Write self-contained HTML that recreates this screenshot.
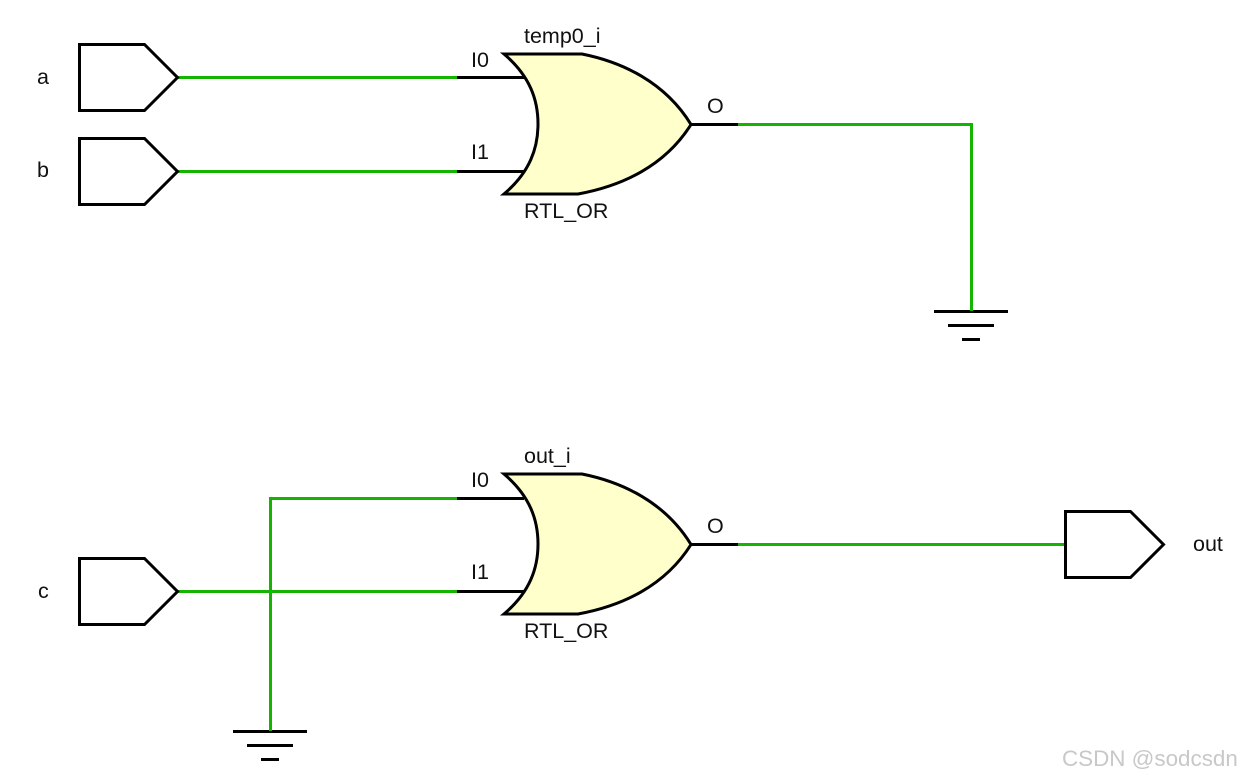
<!DOCTYPE html>
<html>
<head>
<meta charset="utf-8">
<style>
html,body{margin:0;padding:0;background:#fff;width:1241px;height:778px;overflow:hidden}
svg{display:block}
text{font-family:"Liberation Sans",sans-serif;font-size:21.500px;fill:#111}
</style>
</head>
<body>
<svg width="1241" height="778" viewBox="0 0 1241 778" xmlns="http://www.w3.org/2000/svg">
<defs>
<path id="gate" d="M504 54 L582 54 C622 62 665 82 691 124.500 C665 166 622 186 578 194 L504 194 C530 172 538 148 538 124 C538 100 530 76 504 54 Z" fill="#ffffcc" stroke="#000" stroke-width="3" stroke-linejoin="miter"/>
<path id="port" d="M0 0 H65 L98 33 L65 66 H0 Z" fill="#fff" stroke="#000" stroke-width="3" stroke-linejoin="miter"/>
<g id="gnd" fill="#000">
<rect x="0" y="0" width="74" height="3"/>
<rect x="14" y="14" width="46" height="3"/>
<rect x="28" y="28" width="18" height="3"/>
</g>
</defs>

<g stroke="#14b400" stroke-width="3" fill="none">
<path d="M177 77.500 H457"/>
<path d="M177 171.500 H457"/>
<path d="M738 124.500 H971.500 V311"/>
<path d="M457 498.500 H270.500 V731"/>
<path d="M177 591.500 H457"/>
<path d="M738 544.500 H1065"/>
</g>

<use href="#port" x="79.500" y="44.500"/>
<use href="#port" x="79.500" y="138.500"/>
<use href="#port" x="79.500" y="558.500"/>
<use href="#port" x="1065.500" y="511.500"/>

<use href="#gate"/>
<use href="#gate" y="420"/>
<path d="M457 77.500 H524 M457 171.500 H524 M691 124.500 H738 M457 498.500 H524 M457 591.500 H524 M691 544.500 H738" stroke="#000" stroke-width="3" fill="none"/>

<use href="#gnd" x="934" y="310"/>
<use href="#gnd" x="233" y="730"/>
<rect x="970" y="292" width="3" height="19" fill="#14b400"/>
<rect x="269" y="712" width="3" height="19" fill="#14b400"/>

<text x="37" y="84">a</text>
<text x="37" y="177">b</text>
<text x="38" y="598">c</text>
<text x="1193" y="551">out</text>

<text x="524" y="43">temp0_i</text>
<text x="471" y="67">I0</text>
<text x="471" y="159">I1</text>
<text x="707" y="113">O</text>
<text x="524" y="218">RTL_OR</text>

<text x="524" y="463">out_i</text>
<text x="471" y="487">I0</text>
<text x="471" y="579">I1</text>
<text x="707" y="533">O</text>
<text x="524" y="638">RTL_OR</text>

<text x="1062" y="766" style="font-size:22.400px;fill:#c8c8c8">CSDN @sodcsdn</text>
</svg>
</body>
</html>
